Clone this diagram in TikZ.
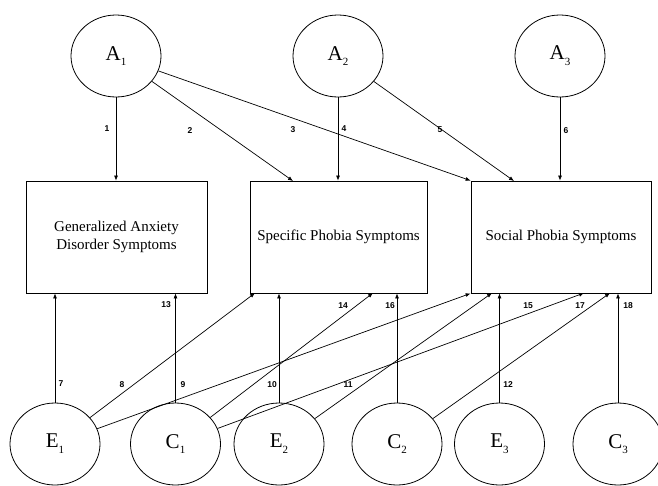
\documentclass[tikz,border=0pt]{standalone}
\usepackage{fontspec}
\setmainfont{Liberation Serif}
\newfontfamily\numfont{Liberation Sans}
\usetikzlibrary{arrows.meta,shapes.geometric}
% latent variable name with a lowered index
\newcommand\latentname[2]{#1\raisebox{-0.6ex}{\fontsize{11}{11}\selectfont #2}}
\begin{document}
\begin{tikzpicture}[x=1pt,y=-1pt,
  latent/.style={draw,ellipse,minimum width=90pt,minimum height=82pt,inner sep=0pt,
    line width=0.8pt,font=\fontsize{21}{21}\selectfont},
  observed/.style={draw,rectangle,inner sep=0pt,line width=0.8pt,align=center,
    minimum height=112pt,font=\fontsize{15}{18}\selectfont},
  loading/.style={-{Latex[length=5pt,width=4pt]},line width=0.7pt},
  coef/.style={font=\numfont\bfseries\fontsize{8.5}{8.5}\selectfont,inner sep=0pt}]
\useasboundingbox (0,0) rectangle (658,485);
\fill[white] (0,0) rectangle (658,485);

% additive genetic factors
\node[latent] (A1) at (116,56) {\latentname{A}{1}};
\node[latent] (A2) at (338,56) {\latentname{A}{2}};
\node[latent] (A3) at (560,56) {\latentname{A}{3}};

% symptom scales
\node[observed,minimum width=181pt] (gad) at (116.5,237) {Generalized Anxiety\\Disorder Symptoms};
\node[observed,minimum width=177pt] (spec) at (338.5,237) {Specific Phobia Symptoms};
\node[observed,minimum width=180pt] (soc) at (561,237) {Social Phobia Symptoms};

% unique environment and common environment factors
\node[latent] (E1) at (55,444) {\latentname{E}{1}};
\node[latent] (C1) at (175.5,444) {\latentname{C}{1}};
\node[latent] (E2) at (279,444) {\latentname{E}{2}};
\node[latent] (C2) at (397,444) {\latentname{C}{2}};
\node[latent] (E3) at (499.5,444) {\latentname{E}{3}};
\node[latent] (C3) at (618,444) {\latentname{C}{3}};

% arrow end points on the scale boxes
\coordinate (t2) at (293,181);
\coordinate (t5) at (514,181);
\coordinate (b8) at (255,293);
\coordinate (b14) at (373,293);
\coordinate (b11) at (492,293);
\coordinate (b15) at (584,293);
\coordinate (b17) at (610,293);

% genetic paths
\draw[loading] (A1) -- (A1 |- gad.north);
\draw[loading] (A1) -- (t2);
\draw[loading] (A1) -- (soc.north west);
\draw[loading] (A2) -- (A2 |- spec.north);
\draw[loading] (A2) -- (t5);
\draw[loading] (A3) -- (A3 |- soc.north);

% environmental paths
\draw[loading] (E1) -- (E1 |- gad.south);
\draw[loading] (E1) -- (b8);
\draw[loading] (E1) -- (soc.south west);
\draw[loading] (C1) -- (C1 |- gad.south);
\draw[loading] (C1) -- (b14);
\draw[loading] (C1) -- (b15);
\draw[loading] (E2) -- (E2 |- spec.south);
\draw[loading] (E2) -- (b11);
\draw[loading] (C2) -- (C2 |- spec.south);
\draw[loading] (C2) -- (b17);
\draw[loading] (E3) -- (E3 |- soc.south);
\draw[loading] (C3) -- (C3 |- soc.south);

% path numbers
\node[coef] (n1) at (107,129) {1};
\node[coef] (n2) at (190,131) {2};
\node[coef] (n3) at (293,130) {3};
\node[coef] (n4) at (344,129) {4};
\node[coef] (n5) at (440,130) {5};
\node[coef] (n6) at (566,131) {6};
\node[coef] (n7) at (61,384) {7};
\node[coef] (n8) at (122,385) {8};
\node[coef] (n9) at (183,385) {9};
\node[coef] (n10) at (272,385) {10};
\node[coef] (n11) at (348,385) {11};
\node[coef] (n12) at (508,385) {12};
\node[coef] (n13) at (166,305) {13};
\node[coef] (n14) at (343,306) {14};
\node[coef] (n15) at (528,306) {15};
\node[coef] (n16) at (390,306) {16};
\node[coef] (n17) at (580,306) {17};
\node[coef] (n18) at (628,306) {18};
\end{tikzpicture}
\end{document}
